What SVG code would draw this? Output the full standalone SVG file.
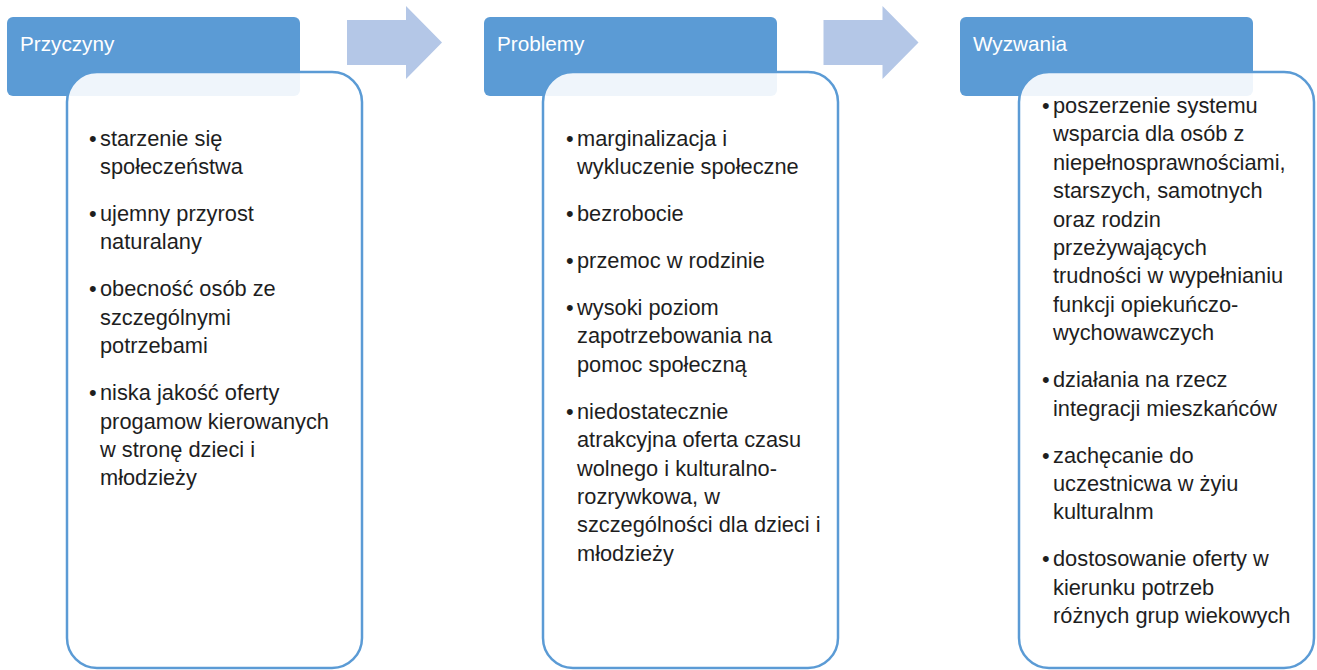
<svg xmlns="http://www.w3.org/2000/svg" width="1317" height="670" viewBox="0 0 1317 670">
<style>
.hdr{fill:#5B9BD5;}
.body{fill:#FFFFFF;fill-opacity:0.9;stroke:#5B9BD5;stroke-width:2.5;}
.ht{font-family:"Liberation Sans",Arial,sans-serif;font-size:20.7px;fill:#FFFFFF;}
.t{font-family:"Liberation Sans",Arial,sans-serif;font-size:21.8px;fill:#1E1E1E;}
.arr{fill:#B4C7E7;}
</style>
<rect x="0" y="0" width="1317" height="670" fill="#FFFFFF"/>
<g id="connectors">
<polygon class="arr" points="347,20 406,20 406,6 442,42.5 406,79 406,65 347,65"/>
<polygon class="arr" points="823.5,20 882.5,20 882.5,6 918.5,42.5 882.5,79 882.5,65 823.5,65"/>
</g>
<g id="przyczyny">
<rect class="hdr" x="7" y="17" width="293" height="79" rx="6"/>
<text class="ht" x="20" y="51">Przyczyny</text>
<rect class="body" x="67" y="72" width="295" height="596" rx="30"/>
<g class="t">
<text x="89" y="145.5">•</text><text x="100" y="145.5">starzenie się</text>
<text x="100" y="173.9">społeczeństwa</text>
<text x="89" y="220.9">•</text><text x="100" y="220.9">ujemny przyrost</text>
<text x="100" y="249.3">naturalany</text>
<text x="89" y="296.3">•</text><text x="100" y="296.3">obecność osób ze</text>
<text x="100" y="324.7">szczególnymi</text>
<text x="100" y="353.1">potrzebami</text>
<text x="89" y="400.1">•</text><text x="100" y="400.1">niska jakość oferty</text>
<text x="100" y="428.5">progamow kierowanych</text>
<text x="100" y="456.9">w stronę dzieci i</text>
<text x="100" y="485.3">młodzieży</text>
</g>
</g>
<g id="problemy">
<rect class="hdr" x="484" y="17" width="293" height="79" rx="6"/>
<text class="ht" x="497" y="51">Problemy</text>
<rect class="body" x="543" y="72" width="295" height="596" rx="30"/>
<g class="t">
<text x="566" y="145.5">•</text><text x="577" y="145.5">marginalizacja i</text>
<text x="577" y="173.9">wykluczenie społeczne</text>
<text x="566" y="220.9">•</text><text x="577" y="220.9">bezrobocie</text>
<text x="566" y="267.9">•</text><text x="577" y="267.9">przemoc w rodzinie</text>
<text x="566" y="314.9">•</text><text x="577" y="314.9">wysoki poziom</text>
<text x="577" y="343.3">zapotrzebowania na</text>
<text x="577" y="371.7">pomoc społeczną</text>
<text x="566" y="418.7">•</text><text x="577" y="418.7">niedostatecznie</text>
<text x="577" y="447.1">atrakcyjna oferta czasu</text>
<text x="577" y="475.5">wolnego i kulturalno-</text>
<text x="577" y="503.9">rozrywkowa, w</text>
<text x="577" y="532.3">szczególności dla dzieci i</text>
<text x="577" y="560.7">młodzieży</text>
</g>
</g>
<g id="wyzwania">
<rect class="hdr" x="960" y="17" width="293" height="79" rx="6"/>
<text class="ht" x="973" y="51">Wyzwania</text>
<rect class="body" x="1019" y="72" width="295" height="596" rx="30"/>
<g class="t">
<text x="1042" y="113">•</text><text x="1053" y="113">poszerzenie systemu</text>
<text x="1053" y="141.4">wsparcia dla osób z</text>
<text x="1053" y="169.8">niepełnosprawnościami,</text>
<text x="1053" y="198.2">starszych, samotnych</text>
<text x="1053" y="226.6">oraz rodzin</text>
<text x="1053" y="255">przeżywających</text>
<text x="1053" y="283.4">trudności w wypełnianiu</text>
<text x="1053" y="311.8">funkcji opiekuńczo-</text>
<text x="1053" y="340.2">wychowawczych</text>
<text x="1042" y="387.2">•</text><text x="1053" y="387.2">działania na rzecz</text>
<text x="1053" y="415.6">integracji mieszkańców</text>
<text x="1042" y="462.6">•</text><text x="1053" y="462.6">zachęcanie do</text>
<text x="1053" y="491">uczestnicwa w żyiu</text>
<text x="1053" y="519.4">kulturalnm</text>
<text x="1042" y="566.4">•</text><text x="1053" y="566.4">dostosowanie oferty w</text>
<text x="1053" y="594.8">kierunku potrzeb</text>
<text x="1053" y="623.2">różnych grup wiekowych</text>
</g>
</g>
</svg>
